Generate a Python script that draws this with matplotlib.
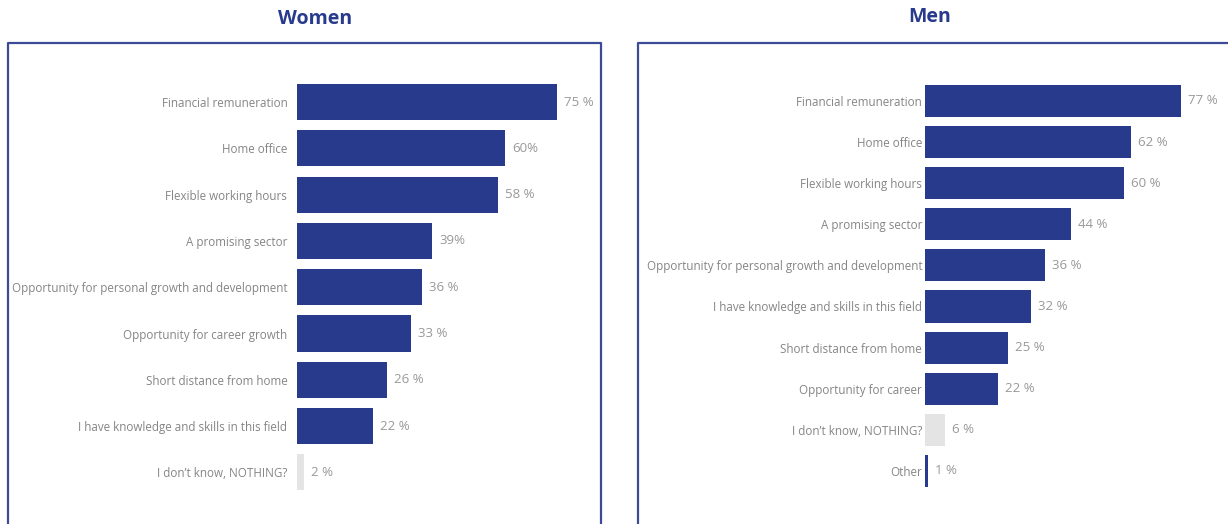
import matplotlib.pyplot as plt
from matplotlib.lines import Line2D

W, H = 1228, 524

women_labels = ['Financial remuneration', 'Home office', 'Flexible working hours',
                'A promising sector', 'Opportunity for personal growth and development',
                'Opportunity for career growth', 'Short distance from home',
                'I have knowledge and skills in this field', "I don\u2019t know, NOTHING?"]
women_values = [75, 60, 58, 39, 36, 33, 26, 22, 2]
women_text = ['75 %', '60%', '58 %', '39%', '36 %', '33 %', '26 %', '22 %', '2 %']

men_labels = ['Financial remuneration', 'Home office', 'Flexible working hours',
              'A promising sector', 'Opportunity for personal growth and development',
              'I have knowledge and skills in this field', 'Short distance from home',
              'Opportunity for career', "I don\u2019t know, NOTHING?", 'Other']
men_values = [77, 62, 60, 44, 36, 32, 25, 22, 6, 1]
men_text = ['77 %', '62 %', '60 %', '44 %', '36 %', '32 %', '25 %', '22 %', '6 %', '1 %']

NAVY = '#283a8c'
GRAY_BAR = '#e4e4e4'
FRAME = '#3d4a95'
TEXT = '#858585'
PCT = '#999999'

plt.rcParams['font.family'] = ['Open Sans', 'DejaVu Sans']

fig = plt.figure(figsize=(W / 100, H / 100), dpi=100)


def px_axes(x0, x1, y0, y1):
    # axes placed with pixel coordinates (origin top-left)
    return fig.add_axes([x0 / W, 1 - y1 / H, (x1 - x0) / W, (y1 - y0) / H])


def frame(x0, x1, y0):
    kw = dict(color=FRAME, lw=1.6, transform=fig.transFigure)
    pts_x = [x0 / W, x0 / W, x1 / W, x1 / W]
    pts_y = [0, 1 - y0 / H, 1 - y0 / H, 0]
    fig.add_artist(Line2D(pts_x, pts_y, **kw))


def panel(x0, x1, scale, first_y, step, labels, values, texts, gray_idx, pad):
    y_top, y_bot = 43, H
    ax = px_axes(x0, x1, y_top, y_bot)
    n = len(values)
    ax.set_xlim(0, (x1 - x0) / scale)
    ax.set_ylim((y_bot - first_y) / step, (y_top - first_y) / step)
    colors = [GRAY_BAR if i in gray_idx else NAVY for i in range(n)]
    ax.barh(range(n), values, height=0.78, color=colors)
    for i, (v, t) in enumerate(zip(values, texts)):
        ax.text(v + 7 / scale, i, t, va='center', ha='left', fontsize=9.5,
                color=PCT)
    ax.set_yticks(range(n))
    ax.set_yticklabels(labels, fontsize=8.4, color=TEXT)
    ax.tick_params(axis='y', length=0, pad=pad)
    ax.set_xticks([])
    for s in ax.spines.values():
        s.set_visible(False)
    ax.patch.set_alpha(0)
    return ax


panel(297, 601, 260 / 75, 102, 46.3, women_labels, women_values, women_text, {8}, 7)
panel(925, 1228, 256 / 77, 101, 41.1, men_labels, men_values, men_text, {8}, 2)

frame(8, 601, 43)
frame(638, 1240, 43)

fig.text(315 / W, 1 - 19 / H, 'Women', ha='center', va='center', fontsize=14,
         fontweight='bold', color=NAVY)
fig.text(930 / W, 1 - 17 / H, 'Men', ha='center', va='center', fontsize=14,
         fontweight='bold', color=NAVY)

fig.savefig('out.png', dpi=100)
